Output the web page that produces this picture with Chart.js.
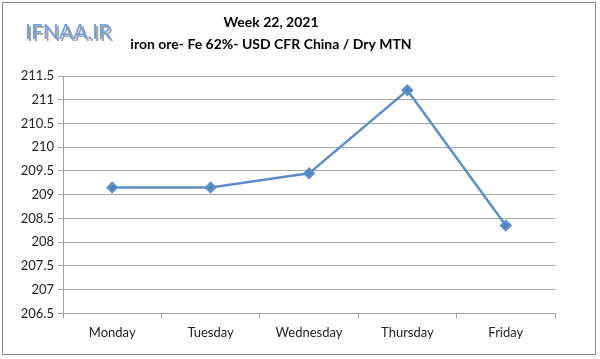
<!DOCTYPE html>
<html>
<head>
<meta charset="utf-8">
<script src="https://cdn.jsdelivr.net/npm/chart.js@4/dist/chart.umd.min.js"></script>
<style>
    html, body { margin: 0; padding: 0; background: #fff; }
    #wrap { width: 600px; height: 359px; }
</style>
</head>
<body>
<div id="wrap"><canvas id="canvas" width="600" height="359"></canvas></div>
<script>
var DAYS = ["Monday", "Tuesday", "Wednesday", "Thursday", "Friday"];
var PRICES = [209.15, 209.15, 209.45, 211.2, 208.35];
var Y_MIN = 206.5;
var Y_MAX = 211.5;
var Y_STEP = 0.5;
var TITLE = "Week 22, 2021";
var SUBTITLE = "iron ore- Fe 62%- USD CFR China / Dry MTN";
var LOGO = "IFNAA.IR";

var FONT = "Lato, 'Open Sans', sans-serif";

// frame, logo and titles
var decor = {
    id: 'decor',
    beforeDraw: function (chart) {
        var ctx = chart.ctx;
        ctx.save();
        ctx.fillStyle = '#fff';
        ctx.fillRect(0, 0, chart.width, chart.height);
        ctx.strokeStyle = '#8c8c8c';
        ctx.lineWidth = 1;
        ctx.strokeRect(2.5, 2.5, 593, 352);
        ctx.restore();
    },
    afterDraw: function (chart) {
        var ctx = chart.ctx;
        ctx.save();
        ctx.textAlign = 'left';
        ctx.textBaseline = 'middle';
        ctx.font = "21px " + FONT;
        ctx.fillStyle = '#a0a0a0';
        ctx.fillText(LOGO, 27, 34);
        ctx.fillStyle = '#6f9fe0';
        ctx.fillText(LOGO, 25, 32);

        ctx.textAlign = 'center';
        ctx.fillStyle = '#000';
        ctx.font = "bold 14px " + FONT;
        ctx.fillText(TITLE, 271, 22);
        ctx.fillText(SUBTITLE, 271, 44);
        ctx.restore();
    }
};

var ctx = document.getElementById("canvas").getContext("2d");
window.myLine = new Chart(ctx, {
    type: "line",
    data: {
        labels: DAYS,
        datasets: [{
            data: PRICES,
            borderColor: "#5b8fc9",
            backgroundColor: "#4f81bd",
            borderWidth: 2.5,
            pointStyle: "rectRot",
            pointRadius: 4.5,
            pointHoverRadius: 4.5,
            tension: 0
        }]
    },
    plugins: [decor],
    options: {
        responsive: false,
        animation: false,
        events: [],
        layout: {
            padding: { left: 8, right: 45, top: 76, bottom: 11 }
        },
        plugins: {
            legend: { display: false },
            title: { display: false },
            tooltip: { enabled: false }
        },
        scales: {
            x: {
                offset: true,
                grid: {
                    offset: true,
                    drawOnChartArea: false,
                    drawTicks: true,
                    tickLength: 5,
                    color: '#a0a0a0'
                },
                border: { color: '#a0a0a0', width: 1 },
                ticks: {
                    color: '#222',
                    font: { family: FONT, size: 13 },
                    padding: 7,
                    maxRotation: 0
                }
            },
            y: {
                min: Y_MIN,
                max: Y_MAX,
                afterFit: function (scale) { scale.width = 55; },
                grid: {
                    color: '#a6a6a6',
                    lineWidth: 1,
                    drawTicks: true,
                    tickLength: 5
                },
                border: { color: '#a0a0a0', width: 1 },
                ticks: {
                    stepSize: Y_STEP,
                    color: '#222',
                    font: { family: FONT, size: 13 },
                    padding: 4,
                    callback: function (v) { return String(v); }
                }
            }
        }
    }
});
</script>
</body>
</html>
